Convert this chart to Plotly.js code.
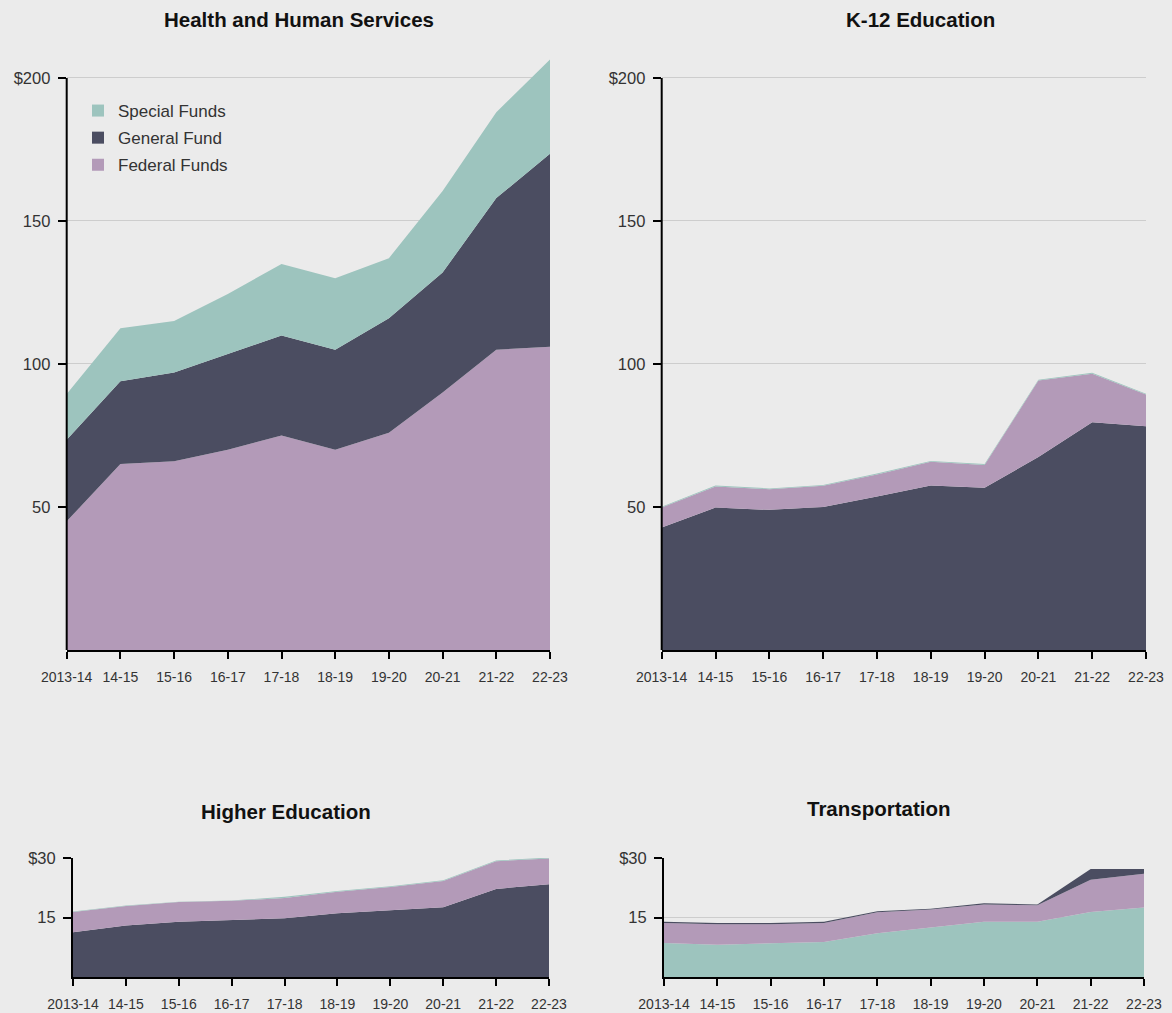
<!DOCTYPE html>
<html>
<head>
<meta charset="utf-8">
<script src="https://cdn.plot.ly/plotly-3.0.1.min.js"></script>
<style>
  html, body { margin: 0; padding: 0; background: #ebebeb; }
  #chart { width: 1172px; height: 1013px; }
</style>
</head>
<body>
<div id="chart"></div>
<script>
// ---- Data (billions of dollars) ----
const years = ["2013-14", "14-15", "15-16", "16-17", "17-18", "18-19", "19-20", "20-21", "21-22", "22-23"];

const hhsFederal = [45, 65, 66, 70, 75, 70, 76, 90, 105, 106];
const hhsGeneral = [28.5, 29, 31, 33.5, 35, 35, 40, 42, 53, 67.5];
const hhsSpecial = [16, 18.5, 18, 21, 25, 25, 21, 28.5, 30, 33];

const k12General = [42.8, 49.8, 49, 50, 53.7, 57.5, 56.7, 67.5, 79.6, 78.2];
const k12Federal = [7, 7.4, 7.2, 7.4, 7.7, 8.3, 8, 26.7, 17, 11.1];
const k12Special = [0.3, 0.3, 0.3, 0.3, 0.3, 0.3, 0.3, 0.3, 0.3, 0.3];

const heGeneral = [11.3, 13, 13.9, 14.3, 14.8, 16.1, 16.9, 17.6, 22.2, 23.4];
const heFederal = [5.1, 4.9, 5, 4.9, 5.1, 5.4, 5.8, 6.6, 7, 6.5];
const heSpecial = [0.1, 0.1, 0.1, 0.1, 0.3, 0.2, 0.2, 0.2, 0.2, 0.2];

const trSpecial = [8.6, 8.1, 8.5, 8.8, 11, 12.4, 13.9, 13.9, 16.4, 17.5];
const trFederal = [5, 5.2, 4.8, 4.8, 5.3, 4.6, 4.4, 4.2, 8.1, 8.5];
const trGeneral = [0.3, 0.3, 0.3, 0.3, 0.3, 0.2, 0.3, 0.2, 2.7, 1.2];

const topTickVals = [50, 100, 150, 200];
const topTickText = ["50", "100", "150", "$200"];
const botTickVals = [15, 30];
const botTickText = ["15", "$30"];

const titles = ["Health and Human Services", "K-12 Education", "Higher Education", "Transportation"];
const legendOrder = ["special", "general", "federal"];

// ---- Styles ----
const COLORS = { special: "#9dc4be", general: "#4b4d61", federal: "#b39ab8" };
const NAMES = { special: "Special Funds", general: "General Fund", federal: "Federal Funds" };
const FONT = "Liberation Sans, Arial, Helvetica, sans-serif";

function area(key, values, idx) {
  const sfx = idx === 1 ? "" : String(idx);
  return {
    type: "scatter", mode: "lines", x: years, y: values,
    stackgroup: "s" + idx, name: NAMES[key],
    line: { width: 0, color: COLORS[key] }, fillcolor: COLORS[key],
    xaxis: "x" + sfx, yaxis: "y" + sfx, showlegend: false, hoverinfo: "skip"
  };
}

const traces = [
  area("federal", hhsFederal, 1), area("general", hhsGeneral, 1), area("special", hhsSpecial, 1),
  area("general", k12General, 2), area("federal", k12Federal, 2), area("special", k12Special, 2),
  area("general", heGeneral, 3), area("federal", heFederal, 3), area("special", heSpecial, 3),
  area("special", trSpecial, 4), area("federal", trFederal, 4), area("general", trGeneral, 4)
];

// legend entries (square swatches)
legendOrder.forEach(k => {
  traces.push({
    type: "scatter", mode: "markers", x: [null], y: [null], name: NAMES[k],
    legendgroup: k, showlegend: true,
    marker: { symbol: "square", size: 11, color: COLORS[k] },
    xaxis: "x", yaxis: "y"
  });
});

function xAxis(domain, anchor) {
  return {
    domain: domain, anchor: anchor, type: "category", range: [0, 9],
    showline: true, linecolor: "#000", linewidth: 2, mirror: false,
    ticks: "outside", ticklen: 7, tickwidth: 2, tickcolor: "#000",
    ticklabelstandoff: 6,
    showgrid: false, zeroline: false, fixedrange: true,
    tickfont: { family: FONT, size: 14, color: "#333" }
  };
}
function yAxis(domain, anchor, range, vals, text, line) {
  return {
    domain: domain, anchor: anchor, range: range,
    tickmode: "array", tickvals: vals, ticktext: text,
    showline: line, linecolor: "#000", linewidth: 2,
    ticks: "outside", ticklen: 8, tickwidth: 2, tickcolor: "#000",
    ticklabelstandoff: 4,
    showgrid: true, gridcolor: "#cdcdcd", gridwidth: 1,
    zeroline: false, fixedrange: true,
    tickfont: { family: FONT, size: 16.5, color: "#333" }
  };
}

const W = 1172, H = 1013;
const px = v => v / W, py = v => (H - v) / H;

const topY = [py(650), py(55.1)];
const botY = [py(977), py(858)];

function title(i, cx, cy) {
  return {
    text: "<b>" + titles[i] + "</b>", x: px(cx), y: py(cy), xref: "paper", yref: "paper",
    xanchor: "center", yanchor: "middle", showarrow: false,
    font: { family: FONT, size: 20.5, color: "#111" }
  };
}

const layout = {
  width: W, height: H,
  margin: { l: 0, r: 0, t: 0, b: 0 },
  paper_bgcolor: "#ebebeb", plot_bgcolor: "#ebebeb",
  font: { family: FONT, color: "#333" },
  showlegend: true,
  legend: {
    x: px(78), y: py(93), xanchor: "left", yanchor: "top",
    bgcolor: "rgba(0,0,0,0)", traceorder: "grouped", tracegroupgap: 2,
    font: { family: FONT, size: 17, color: "#333" }, itemsizing: "constant"
  },
  xaxis: xAxis([px(66.7), px(550)], "y"),
  yaxis: yAxis(topY, "x", [0, 208], topTickVals, topTickText, false),
  xaxis2: xAxis([px(661.7), px(1146)], "y2"),
  yaxis2: yAxis(topY, "x2", [0, 208], topTickVals, topTickText, false),
  xaxis3: xAxis([px(73), px(549)], "y3"),
  yaxis3: yAxis(botY, "x3", [0, 30], botTickVals, botTickText, true),
  xaxis4: xAxis([px(664), px(1144)], "y4"),
  yaxis4: yAxis(botY, "x4", [0, 30], botTickVals, botTickText, true),
  shapes: [
    { type: "line", xref: "x domain", yref: "y", x0: 0, x1: 0, y0: 0, y1: 200, line: { color: "#000", width: 2 } },
    { type: "line", xref: "x2 domain", yref: "y2", x0: 0, x1: 0, y0: 0, y1: 200, line: { color: "#000", width: 2 } }
  ],
  annotations: [
    title(0, 298.5, 19), title(1, 920.5, 19), title(2, 285.5, 811), title(3, 878.5, 808)
  ]
};

Plotly.newPlot("chart", traces, layout, { displayModeBar: false, staticPlot: true });
</script>
</body>
</html>
